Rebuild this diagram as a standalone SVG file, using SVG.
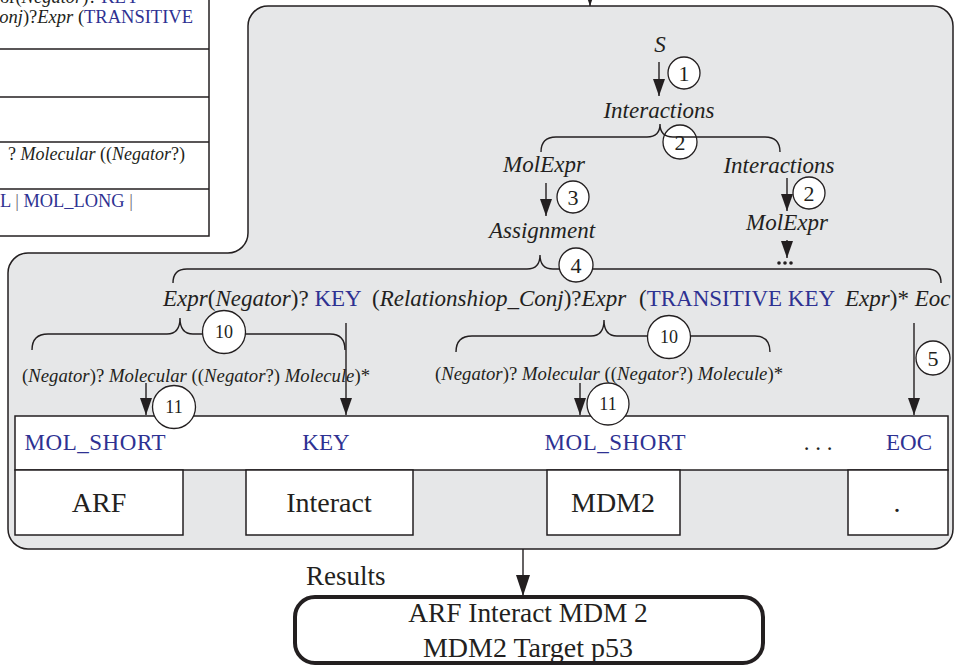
<svg xmlns="http://www.w3.org/2000/svg" width="956" height="665" viewBox="0 0 956 665">
  <defs>
    <marker id="arrow" markerUnits="userSpaceOnUse" markerWidth="18" markerHeight="12" refX="17" refY="6" orient="auto">
      <path d="M0,0 L17,6 L0,12 Z" fill="#231f20"/>
    </marker>
    <marker id="arrowBig" markerUnits="userSpaceOnUse" markerWidth="22" markerHeight="14" refX="21" refY="7" orient="auto">
      <path d="M0,0 L21,7 L0,14 Z" fill="#231f20"/>
    </marker>
  </defs>
  <style>
    .t{font-family:"Liberation Serif","Times New Roman",serif;fill:#231f20}
    .i{font-style:italic}
    .b{fill:#2e3192}
    .g{fill:#6d6e71}
    .ln{stroke:#231f20;stroke-width:1.4;fill:none}
    .arr{stroke:#231f20;stroke-width:1.4;fill:none;marker-end:url(#arrow)}
    .circ{fill:#fff;stroke:#231f20;stroke-width:1.3}
    .box{fill:#fff;stroke:#231f20;stroke-width:1.5}
    .num{font-family:"Liberation Serif","Times New Roman",serif;fill:#231f20;text-anchor:middle}
    .c{text-anchor:middle}
  </style>

  <!-- grammar table (partially in view, upper left) -->
  <g id="grammar-table">
    <rect x="-2" y="-2" width="211" height="238" fill="#fff" stroke="#231f20" stroke-width="1.5"/>
    <path class="ln" d="M0,49 H209 M0,97 H209 M0,142 H209 M0,189 H209"/>
    <text class="t" font-size="18.5" x="0" y="3">or(<tspan class="i">Negator</tspan>)? <tspan class="b">KEY</tspan></text>
    <text class="t" font-size="18.5" x="193" y="23" text-anchor="end"><tspan class="i">onj</tspan>)?<tspan class="i">Expr</tspan> (<tspan class="b">TRANSITIVE</tspan></text>
    <text class="t" font-size="18" x="185" y="160" text-anchor="end">? <tspan class="i">Molecular</tspan> ((<tspan class="i">Negator</tspan>?)</text>
    <text class="t" font-size="18.4" x="0" y="207"><tspan class="b">L</tspan><tspan class="g"> | </tspan><tspan class="b">MOL_LONG</tspan><tspan class="g"> |</tspan></text>
  </g>

  <!-- parsing panel -->
  <g id="parse-panel">
    <path d="M268,6 H933 A20,20 0 0 1 953,26 V529 A20,20 0 0 1 933,549 H28 A20,20 0 0 1 8,529 V273 A20,20 0 0 1 28,253 H228 A20,20 0 0 0 248,233 V26 A20,20 0 0 1 268,6 Z" fill="#e6e7e8" stroke="#231f20" stroke-width="1.5"/>
  </g>

  <!-- token row -->
  <g id="token-row">
    <rect class="box" x="15" y="416" width="933" height="54"/>
    <text class="t b c" font-size="23" x="95" y="450" textLength="141">MOL_SHORT</text>
    <text class="t b c" font-size="23" x="326" y="450">KEY</text>
    <text class="t b c" font-size="23" x="615" y="450" textLength="141">MOL_SHORT</text>
    <text class="t c" font-size="23" x="818" y="450">. . .</text>
    <text class="t b c" font-size="23" x="909" y="450">EOC</text>
  </g>

  <!-- words -->
  <g id="word-arf">
    <rect class="box" x="15" y="470" width="168" height="65"/>
    <text class="t c" font-size="28" x="99" y="512">ARF</text>
  </g>
  <g id="word-interact">
    <rect class="box" x="246" y="470" width="167" height="65"/>
    <text class="t c" font-size="28" x="329" y="512">Interact</text>
  </g>
  <g id="word-mdm2">
    <rect class="box" x="547" y="470" width="133" height="65"/>
    <text class="t c" font-size="28" x="613" y="512">MDM2</text>
  </g>
  <g id="word-period">
    <rect class="box" x="848" y="470" width="100" height="65"/>
    <text class="t c" font-size="28" x="897" y="512">.</text>
  </g>

  <!-- grammar symbols -->
  <g id="sym-s"><text class="t i c" font-size="23" x="660" y="52">S</text></g>
  <g id="sym-interactions"><text class="t i c" font-size="23" x="659" y="118">Interactions</text></g>
  <g id="sym-molexpr-left"><text class="t i c" font-size="23" x="544" y="172">MolExpr</text></g>
  <g id="sym-interactions-right"><text class="t i c" font-size="23" x="779" y="173">Interactions</text></g>
  <g id="sym-molexpr-right">
    <text class="t i c" font-size="23" x="787" y="230">MolExpr</text>
  </g>
  <g id="sym-ellipsis">
    <circle cx="779" cy="263" r="1.8" fill="#231f20"/>
    <circle cx="785" cy="263" r="1.8" fill="#231f20"/>
    <circle cx="791" cy="263" r="1.8" fill="#231f20"/>
  </g>
  <g id="sym-assignment"><text class="t i c" font-size="23" x="542" y="238">Assignment</text></g>

  <g id="rule-assignment">
    <text class="t" font-size="23" x="163" y="306"><tspan class="i">Expr</tspan>(<tspan class="i">Negator</tspan>)? <tspan class="b">KEY</tspan></text>
    <text class="t" font-size="23" x="372" y="306">(<tspan class="i">Relationshiop_Conj</tspan>)?<tspan class="i">Expr</tspan></text>
    <text class="t" font-size="23" x="639" y="306">(<tspan class="b">TRANSITIVE KEY</tspan></text>
    <text class="t" font-size="23" x="845" y="306"><tspan class="i">Expr</tspan>)* <tspan class="i">Eoc</tspan></text>
  </g>

  <g id="rule-expr-left">
    <text class="t" font-size="18.7" x="22" y="382" textLength="348">(<tspan class="i">Negator</tspan>)? <tspan class="i">Molecular</tspan> ((<tspan class="i">Negator</tspan>?) <tspan class="i">Molecule</tspan>)*</text>
  </g>
  <g id="rule-expr-right">
    <text class="t" font-size="18.7" x="435" y="380" textLength="348">(<tspan class="i">Negator</tspan>)? <tspan class="i">Molecular</tspan> ((<tspan class="i">Negator</tspan>?) <tspan class="i">Molecule</tspan>)*</text>
  </g>

  <!-- connectors: derivation arrows and braces -->
  <g id="connectors">
    <line class="ln" x1="590" y1="-2" x2="590" y2="6" marker-end="url(#arrow)"/>
    <line class="arr" x1="659" y1="62" x2="659" y2="96"/>
    <line class="arr" x1="546" y1="183" x2="546" y2="216"/>
    <line class="arr" x1="787" y1="178" x2="787" y2="211"/>
    <line class="arr" x1="787" y1="240" x2="787" y2="258"/>
    <line class="arr" x1="346" y1="323" x2="346" y2="415"/>
    <line class="arr" x1="146" y1="383" x2="146" y2="415"/>
    <line class="arr" x1="580" y1="383" x2="580" y2="415"/>
    <line class="arr" x1="914" y1="323" x2="914" y2="415"/>
    <line class="ln" x1="523" y1="549" x2="523" y2="596" marker-end="url(#arrowBig)"/>
  </g>

  <!-- step markers -->
  <g id="step-1"><circle class="circ" cx="684" cy="73" r="16"/><text class="num" font-size="22" x="684" y="81">1</text></g>
  <g id="step-2a"><circle class="circ" cx="680" cy="142" r="17"/><text class="num" font-size="22" x="680" y="150">2</text></g>
  <g id="brace-2"><path class="ln" d="M541,152 Q541,137 556,137 H647 Q660,137 660,124 Q660,137 673,137 H765 Q780,137 780,152"/></g>
  <g id="step-2b"><circle class="circ" cx="809" cy="193" r="16"/><text class="num" font-size="22" x="809" y="201">2</text></g>
  <g id="step-3"><circle class="circ" cx="573" cy="197" r="16"/><text class="num" font-size="22" x="573" y="205">3</text></g>

  <g id="brace-4"><path class="ln" d="M173,283 Q173,269 187,269 H527 Q540,269 540,255 Q540,269 553,269 H927 Q941,269 941,283"/></g>
  <g id="step-4"><circle class="circ" cx="576" cy="265" r="17"/><text class="num" font-size="22" x="576" y="273">4</text></g>

  <g id="brace-10a"><path class="ln" d="M32,350 Q32,334 48,334 H167 Q180,334 180,318 Q180,334 193,334 H330 Q345,334 345,350"/></g>
  <g id="step-10a"><circle class="circ" cx="224" cy="332" r="21.5"/><text class="num" font-size="18" x="224" y="338">10</text></g>
  <g id="brace-10b"><path class="ln" d="M456,352 Q456,336 472,336 H591 Q604,336 604,320 Q604,336 617,336 H755 Q770,336 770,352"/></g>
  <g id="step-10b"><circle class="circ" cx="669" cy="337" r="21.5"/><text class="num" font-size="18" x="669" y="343">10</text></g>

  <g id="step-11a"><circle class="circ" cx="174" cy="407" r="21.5"/><text class="num" font-size="18" x="174" y="413">11</text></g>
  <g id="step-11b"><circle class="circ" cx="608" cy="404" r="21"/><text class="num" font-size="18" x="608" y="410">11</text></g>
  <g id="step-5"><circle class="circ" cx="933" cy="358" r="17"/><text class="num" font-size="22" x="933" y="366">5</text></g>

  <!-- results -->
  <g id="results-label"><text class="t" font-size="27" x="306" y="585">Results</text></g>
  <g id="results-box">
    <rect x="295" y="597" width="468" height="66" rx="20" ry="20" fill="#fff" stroke="#231f20" stroke-width="4"/>
    <text class="t c" font-size="27.4" x="528" y="622">ARF Interact MDM 2</text>
    <text class="t c" font-size="28" x="528" y="657">MDM2 Target p53</text>
  </g>
</svg>
